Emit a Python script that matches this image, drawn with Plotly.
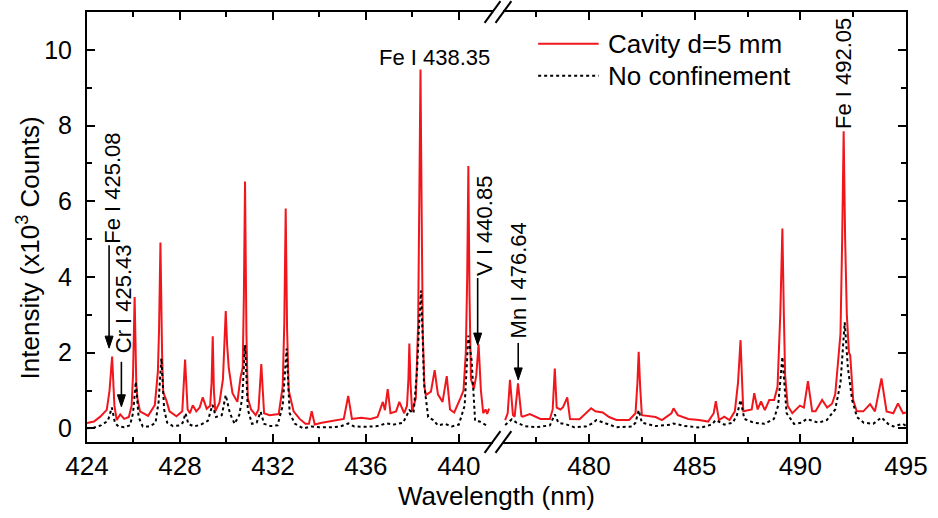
import plotly.graph_objects as go

# ---------------- spectra (wavelength in nm, intensity in 10^3 counts) ----------------
# Cavity d=5 mm, 424-441 nm window
cav_l_wl = [424.00, 424.30, 424.57, 424.85, 424.97, 425.08, 425.18, 425.28, 425.43, 425.60,
            425.80, 425.92, 425.98, 426.05, 426.12, 426.17, 426.28, 426.50, 426.63, 426.92,
            427.05, 427.10, 427.16, 427.23, 427.28, 427.41, 427.55, 427.85, 428.10, 428.22,
            428.33, 428.43, 428.55, 428.70, 428.85, 428.98, 429.15, 429.30, 429.36, 429.41,
            429.46, 429.52, 429.70, 429.85, 429.92, 429.97, 430.03, 430.10, 430.26, 430.47,
            430.61, 430.70, 430.75, 430.80, 430.86, 430.92, 431.06, 431.26, 431.38, 431.50,
            431.62, 431.85, 432.25, 432.42, 432.49, 432.55, 432.61, 432.68, 432.89, 433.15,
            433.40, 433.55, 433.67, 433.80, 434.10, 434.40, 434.75, 435.05, 435.24, 435.40,
            435.80, 436.20, 436.50, 436.62, 436.73, 436.82, 436.94, 437.06, 437.30, 437.44,
            437.65, 437.77, 437.83, 437.87, 437.92, 437.99, 438.15, 438.25, 438.30, 438.35,
            438.41, 438.45, 438.52, 438.58, 438.80, 438.96, 439.10, 439.30, 439.48, 439.62,
            439.80, 439.90, 440.07, 440.20, 440.30, 440.36, 440.41, 440.46, 440.52, 440.65,
            440.75, 440.85, 440.95, 441.05, 441.15, 441.22, 441.30]
cav_l_int = [0.14, 0.18, 0.31, 0.49, 1.00, 1.90, 0.60, 0.22, 0.37, 0.25,
             0.30, 0.60, 1.40, 3.47, 1.20, 0.80, 0.45, 0.36, 0.33, 0.62,
             1.50, 2.60, 4.91, 2.00, 0.95, 0.75, 0.45, 0.32, 0.45, 1.82,
             0.50, 0.40, 0.61, 0.45, 0.55, 0.82, 0.52, 0.60, 1.20, 2.43,
             1.00, 0.45, 0.68, 1.30, 2.30, 3.10, 2.20, 1.60, 0.93, 0.70,
             1.36, 1.60, 3.50, 6.52, 2.50, 0.80, 0.50, 0.35, 0.50, 1.70,
             0.40, 0.35, 0.38, 1.10, 2.80, 5.81, 2.60, 1.00, 0.45, 0.25,
             0.12, 0.12, 0.45, 0.10, 0.15, 0.18, 0.20, 0.25, 0.86, 0.25,
             0.28, 0.25, 0.30, 0.50, 0.70, 0.48, 1.04, 0.40, 0.45, 0.70,
             0.40, 0.60, 1.30, 2.24, 1.20, 0.45, 0.80, 2.80, 5.50, 9.48,
             5.00, 2.50, 1.10, 0.88, 0.97, 1.54, 0.90, 0.70, 1.38, 0.50,
             0.42, 0.55, 0.80, 1.00, 2.00, 4.00, 6.93, 3.50, 1.30, 1.05,
             1.40, 2.22, 1.00, 0.40, 0.50, 0.38, 0.52]

# No confinement, 424-441 nm window
free_l_wl = [424.00, 424.30, 424.60, 424.90, 425.07, 425.20, 425.35, 425.60, 425.85, 425.98,
             426.10, 426.22, 426.40, 426.70, 426.95, 427.08, 427.20, 427.32, 427.45, 427.70,
             428.00, 428.12, 428.24, 428.36, 428.60, 428.90, 429.20, 429.40, 429.55, 429.80,
             429.97, 430.15, 430.35, 430.55, 430.68, 430.80, 430.92, 431.10, 431.30, 431.47,
             431.62, 431.90, 432.20, 432.42, 432.59, 432.72, 432.95, 433.30, 433.65, 434.00,
             434.50, 434.90, 435.24, 435.50, 436.00, 436.50, 436.87, 437.20, 437.60, 437.87,
             438.05, 438.20, 438.28, 438.37, 438.44, 438.50, 438.68, 438.90, 439.10, 439.40,
             439.70, 440.00, 440.25, 440.41, 440.55, 440.70, 440.90, 441.10, 441.28]
free_l_int = [0.00, 0.02, 0.08, 0.20, 0.55, 0.15, 0.05, 0.03, 0.08, 0.40,
              1.23, 0.30, 0.05, 0.05, 0.15, 0.70, 1.85, 0.50, 0.15, 0.06,
              0.08, 0.15, 0.40, 0.12, 0.05, 0.10, 0.20, 0.62, 0.30, 0.35,
              0.88, 0.40, 0.12, 0.35, 0.80, 2.20, 0.50, 0.12, 0.15, 0.44,
              0.12, 0.06, 0.08, 0.60, 2.11, 0.40, 0.12, 0.00, 0.05, 0.03,
              0.03, 0.05, 0.13, 0.05, 0.04, 0.06, 0.13, 0.10, 0.15, 0.48,
              0.40, 1.50, 2.60, 3.64, 2.50, 1.20, 0.30, 0.22, 0.08, 0.12,
              0.05, 0.10, 0.60, 2.45, 1.80, 0.20, 0.18, 0.10, 0.05]

# Cavity d=5 mm, 476-495 nm window
cav_r_wl = [476.03, 476.15, 476.26, 476.40, 476.48, 476.64, 476.80, 476.86, 477.20, 477.70,
            478.15, 478.28, 478.38, 478.47, 478.65, 478.77, 478.97, 479.10, 479.55, 479.85,
            480.10, 480.30, 480.65, 480.95, 481.30, 481.90, 482.20, 482.29, 482.35, 482.42,
            482.50, 483.15, 483.45, 483.90, 484.00, 484.20, 484.70, 485.20, 485.64, 485.90,
            486.00, 486.15, 486.40, 486.65, 486.90, 487.05, 487.17, 487.24, 487.30, 487.70,
            487.82, 487.98, 488.14, 488.32, 488.53, 488.76, 488.92, 489.05, 489.15, 489.22,
            489.28, 489.40, 489.62, 489.98, 490.17, 490.36, 490.56, 490.72, 491.03, 491.27,
            491.50, 491.65, 491.90, 491.98, 492.05, 492.12, 492.20, 492.30, 492.36, 492.50,
            492.67, 492.98, 493.30, 493.53, 493.84, 494.08, 494.40, 494.62, 494.86, 495.00]
cav_r_int = [0.22, 0.40, 1.28, 0.35, 0.31, 1.19, 0.33, 0.31, 0.38, 0.25,
             0.25, 0.50, 1.58, 0.55, 0.50, 0.56, 0.82, 0.25, 0.24, 0.40,
             0.53, 0.45, 0.42, 0.30, 0.22, 0.22, 0.40, 1.20, 2.02, 1.10,
             0.35, 0.30, 0.22, 0.40, 0.53, 0.35, 0.25, 0.22, 0.18, 0.40,
             0.72, 0.22, 0.31, 0.22, 0.45, 1.20, 2.33, 1.30, 0.45, 0.50,
             0.93, 0.50, 0.71, 0.48, 0.75, 0.75, 1.10, 3.00, 5.28, 3.00,
             1.40, 0.60, 0.40, 0.60, 0.55, 1.25, 0.45, 0.45, 0.75, 0.55,
             0.65, 0.90, 2.50, 5.00, 7.85, 5.00, 3.00, 2.00, 1.93, 0.75,
             0.45, 0.45, 0.64, 0.45, 1.32, 0.45, 0.40, 0.66, 0.40, 0.42]

# No confinement, 476-495 nm window
free_r_wl = [476.03, 476.20, 476.35, 476.55, 476.73, 476.95, 477.50, 478.15, 478.38, 478.55,
             478.95, 479.30, 479.85, 480.15, 480.35, 480.80, 481.30, 482.05, 482.20, 482.35,
             482.50, 483.15, 483.90, 484.00, 484.55, 485.30, 485.80, 486.00, 486.40, 486.80,
             487.00, 487.17, 487.35, 487.80, 488.30, 488.75, 488.95, 489.15, 489.35, 489.70,
             490.05, 490.30, 490.85, 491.25, 491.65, 491.90, 492.10, 492.25, 492.45, 492.68,
             493.00, 493.45, 493.84, 494.15, 494.40, 494.85, 495.00]
free_r_int = [0.09, 0.18, 0.24, 0.16, 0.12, 0.06, 0.03, 0.08, 0.37, 0.15,
              0.10, 0.03, 0.05, 0.13, 0.22, 0.12, 0.03, 0.05, 0.15, 0.48,
              0.15, 0.06, 0.10, 0.13, 0.06, 0.02, 0.10, 0.22, 0.10, 0.15,
              0.35, 0.75, 0.25, 0.15, 0.12, 0.25, 0.60, 1.89, 0.40, 0.12,
              0.15, 0.25, 0.15, 0.22, 0.50, 1.20, 2.80, 1.60, 0.75, 0.30,
              0.15, 0.12, 0.29, 0.12, 0.05, 0.12, 0.06]

series_names = ["Cavity d=5 mm", "No confinement"]

# line identifications
line_labels = ["Fe I 425.08", "Cr I 425.43", "Fe I 438.35", "V I 440.85", "Mn I 476.64", "Fe I 492.05"]

# ---------------- figure geometry ----------------
W, H = 938, 518
ML, MR, MT, MB = 87, 25, 10, 76
PW = W - ML - MR
PH = H - MT - MB


def px_x(px):
    return (px - ML) / PW


def px_y(py):
    return (H - MB - py) / PH


FONT = "Liberation Sans, Arial, sans-serif"
RED = "rgb(240,22,28)"

left_range = [424.0, 441.45]
right_range = [475.95, 495.0]
d1 = px_x(496)
d2 = px_x(507)

fig = go.Figure()
fig.add_trace(go.Scatter(x=cav_l_wl, y=cav_l_int, mode="lines", name=series_names[0],
                         line=dict(color=RED, width=2), xaxis="x", yaxis="y", showlegend=False))
fig.add_trace(go.Scatter(x=free_l_wl, y=free_l_int, mode="lines", name=series_names[1],
                         line=dict(color="black", width=2, dash="dot"), xaxis="x", yaxis="y",
                         showlegend=False))
fig.add_trace(go.Scatter(x=cav_r_wl, y=cav_r_int, mode="lines", name=series_names[0],
                         line=dict(color=RED, width=2), xaxis="x2", yaxis="y2", showlegend=False))
fig.add_trace(go.Scatter(x=free_r_wl, y=free_r_int, mode="lines", name=series_names[1],
                         line=dict(color="black", width=2, dash="dot"), xaxis="x2", yaxis="y2",
                         showlegend=False))

axis_common = dict(showgrid=False, zeroline=False, showline=True, linecolor="black", linewidth=2,
                   ticks="inside", ticklen=8, tickwidth=2, tickcolor="black")
minor_common = dict(ticks="inside", ticklen=5, tickwidth=2, tickcolor="black", showgrid=False)

fig.update_layout(
    width=W, height=H,
    margin=dict(l=ML, r=MR, t=MT, b=MB, pad=0),
    paper_bgcolor="white", plot_bgcolor="white",
    font=dict(family=FONT, color="black"),
    xaxis=dict(domain=[0, d1], range=left_range, anchor="y", mirror="ticks",
               tick0=424, dtick=4, minor=dict(dtick=2, **minor_common),
               tickfont=dict(size=26, family=FONT), **axis_common),
    xaxis2=dict(domain=[d2, 1], range=right_range, anchor="y2", mirror="ticks",
                tick0=480, dtick=5, minor=dict(dtick=2.5, tick0=480, **minor_common),
                tickfont=dict(size=26, family=FONT), **axis_common),
    yaxis=dict(domain=[0, 1], range=[-0.36, 11.0], anchor="x", mirror=False,
               tick0=0, dtick=2, minor=dict(dtick=1, **minor_common),
               tickfont=dict(size=25, family=FONT), ticklabelstandoff=8, **axis_common),
    yaxis2=dict(domain=[0, 1], matches="y", anchor="x2", side="right", mirror=False,
                tick0=0, dtick=2, minor=dict(dtick=1, **minor_common),
                showticklabels=False, **axis_common),
)

# axis titles
fig.add_annotation(text="Wavelength (nm)", xref="paper", yref="paper",
                   x=px_x(500), y=px_y(496), xanchor="center", yanchor="middle",
                   showarrow=False, font=dict(size=26, family=FONT))
fig.add_annotation(text="Intensity (x10<sup>3</sup> Counts)", xref="paper", yref="paper",
                   x=px_x(28), y=px_y(247), xanchor="center", yanchor="middle", textangle=-90,
                   showarrow=False, font=dict(size=26, family=FONT))

# axis break marks at the panel joints (top and bottom frame)
bx, by = 8 / PW, 11 / PH
for xc in (d1, d2):
    for yc in (0.0, 1.0):
        fig.add_shape(type="line", xref="paper", yref="paper",
                      x0=xc - bx, y0=yc - by, x1=xc + bx, y1=yc + by,
                      line=dict(color="black", width=2))

# legend
leg_x0, leg_x1, leg_tx = px_x(542), px_x(603), px_x(610)
for name, py, style in ((series_names[0], 42, dict(color=RED, width=2)),
                        (series_names[1], 74, dict(color="black", width=2, dash="dot"))):
    fig.add_shape(type="line", xref="paper", yref="paper", x0=leg_x0, x1=leg_x1,
                  y0=px_y(py), y1=px_y(py), line=style)
    fig.add_annotation(text=name, xref="paper", yref="paper", x=leg_tx, y=px_y(py),
                       xanchor="left", yanchor="middle", showarrow=False,
                       font=dict(size=26, family=FONT))

# line identification labels
lab_font = dict(size=22, family=FONT, color="black")
label_pos = [
    ("x", "y", 425.12, 6.33, -90),   # Fe I 425.08
    ("x", "y", 425.58, 3.43, -90),   # Cr I 425.43
    ("x", "y", 438.95, 9.80, 0),     # Fe I 438.35
    ("x", "y", 441.10, 5.36, -90),   # V I 440.85
    ("x2", "y2", 476.64, 3.91, -90), # Mn I 476.64
    ("x2", "y2", 492.05, 9.38, -90), # Fe I 492.05
]
for text, (xr, yr, xv, yv, ang) in zip(line_labels, label_pos):
    fig.add_annotation(text=text, xref=xr, yref=yr, x=xv, y=yv, xanchor="center",
                       yanchor="middle", textangle=ang, showarrow=False, font=lab_font)

# downward arrows pointing at the identified lines: (xref, yref, x, head y, length in px)
arrows = [
    ("x", "y", 424.95, 2.12, 103),
    ("x", "y", 425.48, 0.57, 45),
    ("x", "y", 440.81, 2.20, 67),
    ("x2", "y2", 476.65, 1.28, 37),
]
for xr, yr, xv, yv, length in arrows:
    anchor = dict(xref=xr, yref=yr, xsizemode="pixel", ysizemode="pixel", xanchor=xv, yanchor=yv)
    fig.add_shape(type="line", x0=0, x1=0, y0=6, y1=length,
                  line=dict(color="black", width=1.6), **anchor)
    fig.add_shape(type="path", path="M0,0 L-4,12 L4,12 Z", fillcolor="black",
                  line=dict(color="black", width=1), **anchor)

fig.write_html("out.html")
